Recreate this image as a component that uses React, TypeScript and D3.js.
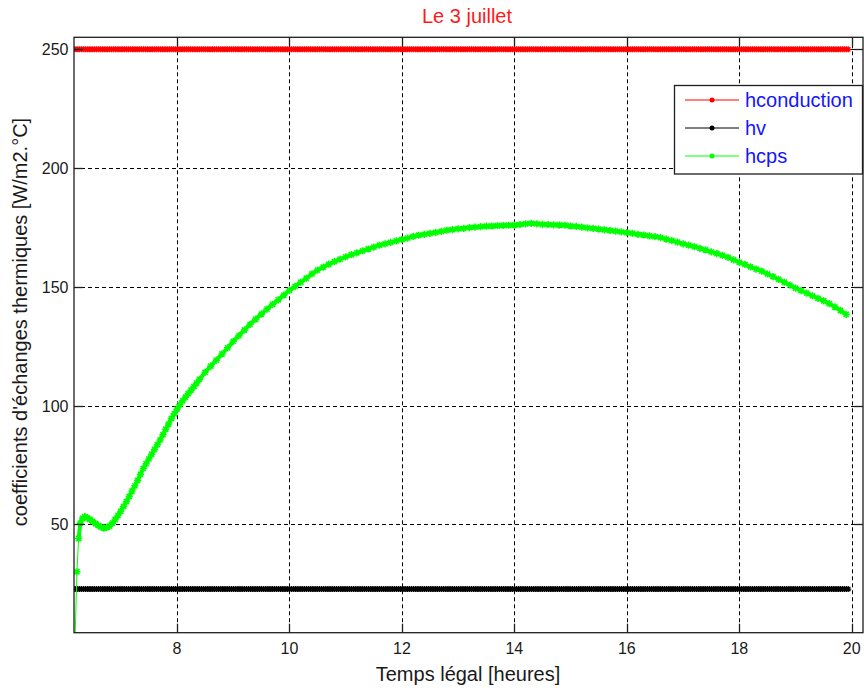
import * as d3 from 'd3';
import React, { useEffect, useRef } from 'react';

// tick values
const xTicks = [8, 10, 12, 14, 16, 18, 20];
const yTicks = [50, 100, 150, 200, 250];

// constant coefficients (W/m2.°C)
const hconductionLevel = 250;
const hvLevel = 22.7;
// sampling grid of the constant series (hours)
const sampleHours = d3.range(6.17, 19.96, 1 / 30);

// hcps : time (hours) and values
const hcpsHoursEarly = [
  6.19, 6.22, 6.25, 6.28, 6.32, 6.36, 6.4, 6.45, 6.5, 6.55, 6.6, 6.65, 6.7, 6.75, 6.8, 6.85,
  6.9, 6.95, 7.0, 7.05, 7.1, 7.15, 7.2, 7.25, 7.3, 7.35, 7.4, 7.45, 7.5, 7.55, 7.6, 7.65,
  7.7, 7.75, 7.8, 7.85, 7.9, 7.95, 8.0, 8.05, 8.1, 8.15, 8.2, 8.25, 8.3, 8.35, 8.4,
];
const hcpsHoursLate = d3.range(8.5, 19.95, 0.1);
const hcpsHours = [...hcpsHoursEarly, ...hcpsHoursLate];
const hcpsValues = [
  // 6.19 -> 8.40
  4.5, 30, 44, 50.5, 52.5, 53.2, 52.8, 52.0, 51.2, 50.3, 49.5, 48.8, 48.4, 48.6, 49.2, 50.5,
  52.0, 53.7, 55.5, 57.5, 59.5, 61.7, 64.0, 66.2, 68.5, 71.0, 73.5, 75.5, 77.5, 79.5, 81.5, 83.5,
  85.5, 87.7, 90.0, 92.2, 94.5, 96.5, 98.5, 100.3, 102.0, 103.5, 105.0, 106.5, 108.0, 109.5, 111.0,
  // 8.5 -> 10.0
  114, 116.6, 119.1, 121.7, 124.3, 127, 129.4, 131.8, 134.2, 136.4, 138.5, 140.6, 142.6, 144.5, 146.5, 148.5,
  // 10.1 -> 12.0
  150.2, 151.9, 153.6, 155.4, 157.0, 158.3, 159.5, 160.6, 161.6, 162.6,
  163.5, 164.3, 165.1, 165.9, 166.7, 167.5, 168.1, 168.7, 169.3, 169.9,
  // 12.1 -> 14.0
  170.5, 171.2, 171.7, 172.1, 172.5, 172.9, 173.3, 173.8, 174.1, 174.4,
  174.6, 174.9, 175.1, 175.3, 175.5, 175.6, 175.7, 175.8, 175.9, 176.0,
  // 14.1 -> 16.0
  176.2, 176.5, 176.7, 176.5, 176.3, 176.2, 176.1, 176.0, 175.9, 175.6,
  175.4, 175.1, 174.8, 174.6, 174.3, 174.0, 173.7, 173.4, 173.1, 172.8,
  // 16.1 -> 18.0
  172.5, 172.1, 171.8, 171.4, 171.1, 170.7, 170.1, 169.4, 168.8, 168.1,
  167.5, 166.9, 166.2, 165.5, 164.7, 164.0, 163.2, 162.4, 161.3, 160.3,
  // 18.1 -> 19.9
  159.4, 158.4, 157.4, 156.6, 155.4, 154.3, 153.1, 151.9, 150.7, 149.4,
  148.4, 147.3, 146.2, 145.1, 144.1, 142.9, 141.5, 140.0, 138.4,
];

const seriesNames = ['hconduction', 'hv', 'hcps'];
const seriesColors = ['#ff0000', '#000000', '#00ff00'];

type Pt = { t: number; v: number };

export default function App() {
  const ref = useRef<SVGSVGElement>(null);

  useEffect(() => {
    if (!ref.current) return;
    document.body.style.margin = '0';
    const svg = d3.select(ref.current);
    svg.selectAll('*').remove();

    const left = 74;
    const right = 863;
    const top = 37.3;
    const bottom = 632.7;

    const x = d3.scaleLinear().domain([6.168, 20.2]).range([left, right]);
    const y = d3.scaleLinear().domain([4.34, 255.05]).range([bottom, top]);

    svg.append('rect').attr('width', 864).attr('height', 690).attr('fill', '#fff');

    svg
      .append('clipPath')
      .attr('id', 'plot-clip')
      .append('rect')
      .attr('x', left)
      .attr('y', top)
      .attr('width', right - left)
      .attr('height', bottom - top);

    // dashed grid
    const grid = svg.append('g').attr('stroke', '#000').attr('stroke-width', 1).attr('stroke-dasharray', '4,3');
    grid
      .selectAll('.gx')
      .data(xTicks)
      .enter()
      .append('line')
      .attr('x1', d => Math.round(x(d)) + 0.5)
      .attr('x2', d => Math.round(x(d)) + 0.5)
      .attr('y1', top)
      .attr('y2', bottom);
    grid
      .selectAll('.gy')
      .data(yTicks)
      .enter()
      .append('line')
      .attr('y1', d => Math.round(y(d)) + 0.5)
      .attr('y2', d => Math.round(y(d)) + 0.5)
      .attr('x1', left)
      .attr('x2', right);

    const series: Pt[][] = [
      sampleHours.map(t => ({ t, v: hconductionLevel })),
      sampleHours.map(t => ({ t, v: hvLevel })),
      hcpsHours.map((t, i) => ({ t, v: hcpsValues[i] })),
    ];

    const line = d3
      .line<Pt>()
      .x(d => x(d.t))
      .y(d => y(d.v));

    const starSmall = 'M-3,0H3M0,-3V3M-2.2,-2.2L2.2,2.2M-2.2,2.2L2.2,-2.2';
    const starBig = 'M-3.6,0H3.6M0,-3.6V3.6M-2.6,-2.6L2.6,2.6M-2.6,2.6L2.6,-2.6';

    const plot = svg.append('g').attr('clip-path', 'url(#plot-clip)');
    series.forEach((pts, i) => {
      const g = plot.append('g');
      const isCurve = i === 2;
      // thin line for the first rise, a wider band for the rest
      g.append('path')
        .datum(pts)
        .attr('fill', 'none')
        .attr('stroke', seriesColors[i])
        .attr('stroke-width', 1)
        .attr('d', line);
      if (isCurve) {
        g.append('path')
          .datum(pts.slice(2))
          .attr('fill', 'none')
          .attr('stroke', seriesColors[i])
          .attr('stroke-width', 4)
          .attr('d', line);
      }
      g.selectAll('path.mk')
        .data(isCurve ? pts.slice(1) : pts)
        .enter()
        .append('path')
        .attr('class', 'mk')
        .attr('d', isCurve ? starBig : starSmall)
        .attr('transform', d => `translate(${x(d.t)},${y(d.v)})`)
        .attr('stroke', seriesColors[i])
        .attr('stroke-width', isCurve ? 1.6 : 1.3)
        .attr('fill', 'none');
    });

    // axes box + inward ticks
    const axisColor = '#1e1e1e';
    svg
      .append('rect')
      .attr('x', left)
      .attr('y', top)
      .attr('width', right - left)
      .attr('height', bottom - top)
      .attr('fill', 'none')
      .attr('stroke', axisColor)
      .attr('stroke-width', 1.3);

    const ticks = svg.append('g').attr('stroke', axisColor).attr('stroke-width', 1.3);
    xTicks.forEach(d => {
      const px = Math.round(x(d)) + 0.5;
      ticks.append('line').attr('x1', px).attr('x2', px).attr('y1', bottom).attr('y2', bottom - 9);
      ticks.append('line').attr('x1', px).attr('x2', px).attr('y1', top).attr('y2', top + 9);
    });
    yTicks.forEach(d => {
      const py = Math.round(y(d)) + 0.5;
      ticks.append('line').attr('x1', left).attr('x2', left + 9).attr('y1', py).attr('y2', py);
      ticks.append('line').attr('x1', right).attr('x2', right - 9).attr('y1', py).attr('y2', py);
    });

    const font = '"Liberation Sans", Arial, sans-serif';
    svg
      .append('g')
      .selectAll('text')
      .data(xTicks)
      .enter()
      .append('text')
      .attr('x', d => x(d))
      .attr('y', 653.5)
      .attr('text-anchor', 'middle')
      .attr('font-family', font)
      .attr('font-size', 16)
      .attr('fill', '#1a1a1a')
      .text(d => d);
    svg
      .append('g')
      .selectAll('text')
      .data(yTicks)
      .enter()
      .append('text')
      .attr('x', 68.5)
      .attr('y', d => y(d) + 6)
      .attr('text-anchor', 'end')
      .attr('font-family', font)
      .attr('font-size', 16)
      .attr('fill', '#1a1a1a')
      .text(d => d);

    // title and axis labels
    svg
      .append('text')
      .attr('x', 467)
      .attr('y', 23)
      .attr('text-anchor', 'middle')
      .attr('font-family', font)
      .attr('font-size', 20)
      .attr('fill', '#ff1a1a')
      .text('Le 3 juillet');
    svg
      .append('text')
      .attr('x', 468)
      .attr('y', 680.5)
      .attr('text-anchor', 'middle')
      .attr('font-family', font)
      .attr('font-size', 20)
      .attr('fill', '#1a1a1a')
      .text('Temps légal [heures]');
    svg
      .append('text')
      .attr('transform', 'translate(27,322) rotate(-90)')
      .attr('text-anchor', 'middle')
      .attr('font-family', font)
      .attr('font-size', 20)
      .attr('fill', '#1a1a1a')
      .text("coefficients d'échanges thermiques [W/m2.°C]");

    // legend
    const legend = svg.append('g');
    legend
      .append('rect')
      .attr('x', 674.5)
      .attr('y', 85.5)
      .attr('width', 188)
      .attr('height', 88.5)
      .attr('fill', '#fff')
      .attr('stroke', axisColor)
      .attr('stroke-width', 1.3);
    const rows = legend
      .selectAll('.row')
      .data(seriesNames)
      .enter()
      .append('g')
      .attr('transform', (d, i) => `translate(0,${100 + i * 28})`);
    rows
      .append('line')
      .attr('x1', 685)
      .attr('x2', 739)
      .attr('stroke', (d, i) => seriesColors[i])
      .attr('stroke-width', 1);
    rows
      .append('circle')
      .attr('cx', 712)
      .attr('r', 2.5)
      .attr('fill', (d, i) => seriesColors[i]);
    rows
      .append('text')
      .attr('x', 745)
      .attr('y', 7)
      .attr('font-family', font)
      .attr('font-size', 20)
      .attr('fill', '#1515ff')
      .text(d => d);
  }, []);

  return <svg ref={ref} width={864} height={690} style={{ display: 'block' }} />;
}
